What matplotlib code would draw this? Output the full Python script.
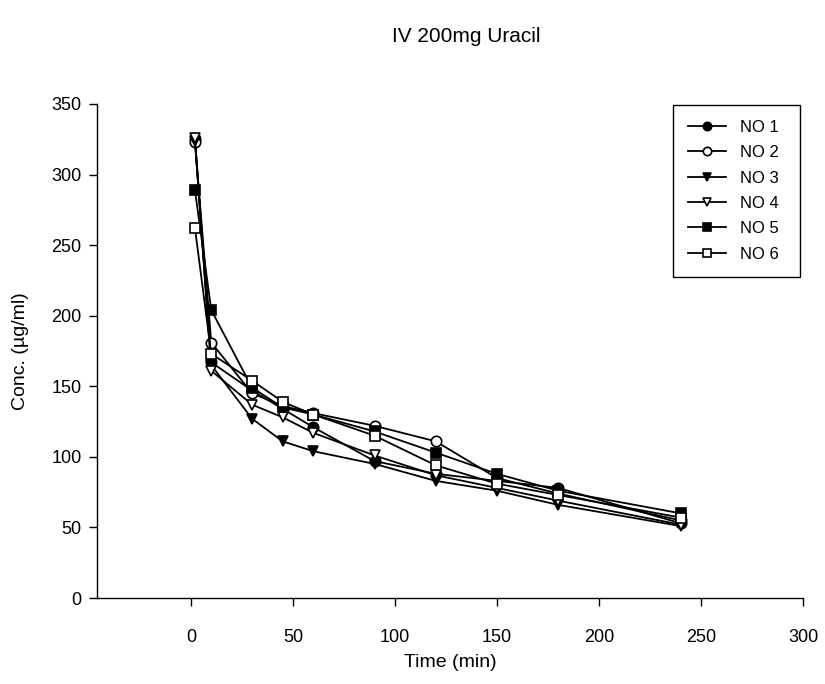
import matplotlib
matplotlib.use("Agg")
import matplotlib.pyplot as plt

plt.rcParams['font.family'] = ['Liberation Sans', 'DejaVu Sans']

# sampling times (min)
time_min = [2, 10, 30, 45, 60, 90, 120, 150, 180, 240]

# plasma concentrations (ug/ml) per subject
no1 = [325, 167, 147, 134, 121, 97, 88, 83, 78, 53]
no2 = [323, 181, 145, 136, 131, 122, 111, 85, 74, 55]
no3 = [324, 165, 127, 111, 104, 95, 83, 76, 66, 51]
no4 = [326, 161, 137, 128, 117, 101, 87, 78, 69, 52]
no5 = [289, 204, 149, 135, 130, 118, 103, 88, 76, 60]
no6 = [262, 173, 154, 139, 130, 115, 94, 81, 73, 57]

labels = ['NO 1', 'NO 2', 'NO 3', 'NO 4', 'NO 5', 'NO 6']
series = [no1, no2, no3, no4, no5, no6]
markers = ['o', 'o', 'v', 'v', 's', 's']
faces = ['black', 'white', 'black', 'white', 'black', 'white']

fig = plt.figure(figsize=(8.25, 6.84), dpi=100)
ax = fig.add_axes([0.1176, 0.1257, 0.8557, 0.7223])

for y, lab, m, fc in zip(series, labels, markers, faces):
    ax.plot(time_min, y, color='black', lw=1.3, marker=m, markersize=7.5,
            markerfacecolor=fc, markeredgecolor='black', markeredgewidth=1.2,
            label=lab)

ax.set_xlim(-46, 300)
ax.set_ylim(0, 350)
ax.set_xticks([0, 50, 100, 150, 200, 250, 300])
ax.set_yticks([0, 50, 100, 150, 200, 250, 300, 350])

for s in ['top', 'right']:
    ax.spines[s].set_visible(False)
for s in ['left', 'bottom']:
    ax.spines[s].set_linewidth(1.0)
ax.tick_params(direction='out', length=6, width=1.0, labelsize=13)
ax.tick_params(axis='x', pad=16)
ax.tick_params(axis='y', pad=5)

ax.set_xlabel('Time (min)', fontsize=14, labelpad=6)
ax.set_ylabel('Conc. (µg/ml)', fontsize=14, labelpad=16)
fig.text(0.565, 0.946, 'IV 200mg Uracil', fontsize=15, ha='center', va='center')

leg = ax.legend(loc='upper left', bbox_to_anchor=(0.816, 0.0, 0.18, 0.998),
                mode='expand', fontsize=12, fancybox=False, edgecolor='black',
                framealpha=1, handlelength=2.3, handletextpad=0.8,
                markerscale=0.8, labelspacing=0.62, borderpad=0.9,
                borderaxespad=0)
leg.get_frame().set_linewidth(1.0)

plt.savefig('out.png', dpi=100)
